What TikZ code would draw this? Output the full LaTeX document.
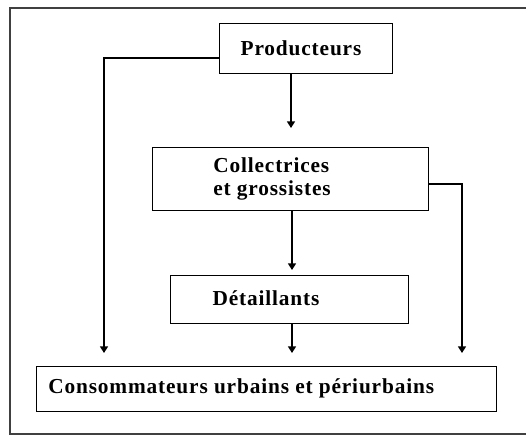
\documentclass[tikz,border=0pt]{standalone}
\usepackage{fontspec}
\setmainfont{Liberation Serif}[LetterSpace=4]
\usetikzlibrary{arrows.meta}
\begin{document}
\begin{tikzpicture}[x=0.75pt,y=-0.75pt,
  box/.style={draw, line width=1.1pt, inner sep=0pt, anchor=north west},
  lbl/.style={font=\fontsize{16}{17}\selectfont\bfseries, inner sep=0pt},
  conn/.style={line width=1.2pt},
  arr/.style={line width=1.2pt, -{Triangle[length=5pt,width=6pt]}}]
\useasboundingbox (0,0) rectangle (526,436);
\draw[line width=1.2pt, black!75] (528,8) -- (10,8) -- (10,434) -- (528,434);
% boxes
\node[box, minimum width=173*0.75pt, minimum height=50*0.75pt] (prod) at (219,23) {};
\node[lbl] (tprod) at (301,48) {Producteurs};
\node[box, minimum width=276*0.75pt, minimum height=63*0.75pt] (coll) at (152,147) {};
\node[lbl, align=left, anchor=west] (tcoll) at (213,179) {Collectrices\\et grossistes};
\node[box, minimum width=238*0.75pt, minimum height=48*0.75pt] (det) at (170,275) {};
\node[lbl] (tdet) at (266,298) {Détaillants};
\node[box, minimum width=460*0.75pt, minimum height=45*0.75pt] (cons) at (36,366) {};
\node[lbl, anchor=west] (tcons) at (48,388) {Consommateurs urbains et périurbains};
% connectors
\coordinate (a1) at (291,128);
\coordinate (a2) at (292,270);
\coordinate (a3) at (292,353);
\coordinate (l1) at (104,58);
\coordinate (l2) at (104,353);
\coordinate (r1) at (462,184);
\coordinate (r2) at (462,353);
\draw[arr] (prod.south -| a1) -- (a1);
\draw[arr] (coll.south -| a2) -- (a2);
\draw[arr] (det.south -| a3) -- (a3);
\draw[arr] (prod.west |- l1) -- (l1) -- (l2);
\draw[arr] (coll.east |- r1) -- (r1) -- (r2);
\end{tikzpicture}
\end{document}
